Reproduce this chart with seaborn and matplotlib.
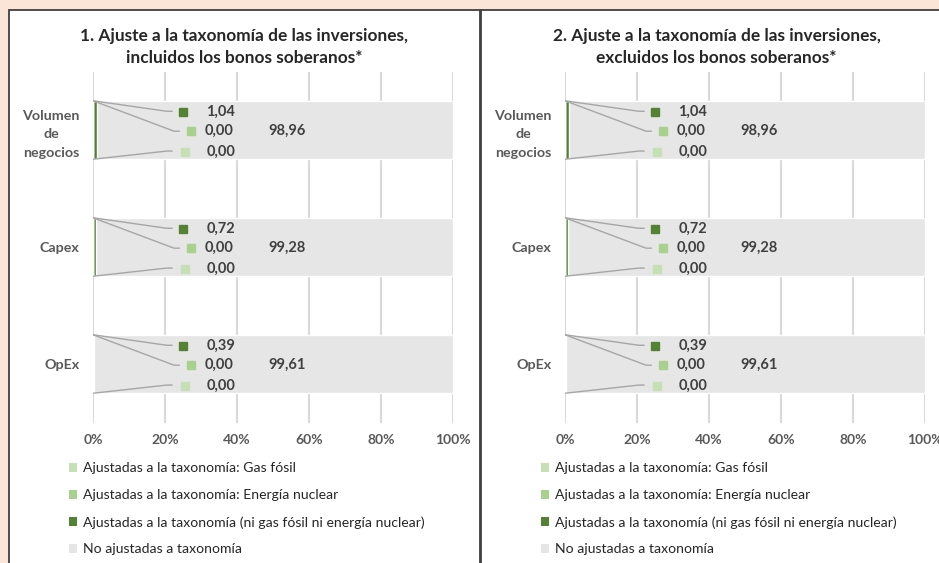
import matplotlib
matplotlib.use("Agg")
import matplotlib.pyplot as plt
import seaborn as sns
import pandas as pd
from matplotlib.patches import Rectangle, Patch

# data
categories = ["Volumen\nde\nnegocios", "Capex", "OpEx"]
gas_fosil = [0.00, 0.00, 0.00]
energia_nuclear = [0.00, 0.00, 0.00]
ajustadas = [1.04, 0.72, 0.39]
no_ajustadas = [98.96, 99.28, 99.61]

titles = ["1. Ajuste a la taxonomía de las inversiones,\nincluidos los bonos soberanos*",
          "2. Ajuste a la taxonomía de las inversiones,\nexcluidos los bonos soberanos*"]
legend_labels = ["Ajustadas a la taxonomía: Gas fósil",
                 "Ajustadas a la taxonomía: Energía nuclear",
                 "Ajustadas a la taxonomía (ni gas fósil ni energía nuclear)",
                 "No ajustadas a taxonomía"]

c_light = "#C5E0B4"
c_mid = "#A9D18E"
c_dark = "#548235"
c_gray = "#E7E6E6"
txt = "#595959"

sns.set_theme(style="white")
plt.rcParams["font.family"] = ["Lato", "DejaVu Sans"]

df = pd.DataFrame({
    "cat": categories,
    "gas": gas_fosil,
    "nuc": energia_nuclear,
    "alig": ajustadas,
    "no": no_ajustadas,
})
df["total"] = df["gas"] + df["nuc"] + df["alig"] + df["no"]
df["green"] = df["gas"] + df["nuc"] + df["alig"]
df["lightmid"] = df["gas"] + df["nuc"]

W, H = 939, 563
fig = plt.figure(figsize=(W / 100, H / 100), dpi=100)
fig.patch.set_facecolor("#FBE5D6")

# white panels with border
for x0 in [9, 481]:
    fig.patches.append(Rectangle((x0 / W, -0.05), 471 / W, (H - 10) / H + 0.05,
                                 transform=fig.transFigure, facecolor="white",
                                 edgecolor="#404040", lw=1.3, zorder=-10))


def fmt(v):
    return f"{v:.2f}".replace(".", ",")


for i, (ax_left, title) in enumerate(zip([93, 565], titles)):
    ax = fig.add_axes([ax_left / W, 1 - 422.5 / H, 360 / W, 351 / H])
    ax.set_facecolor("none")
    sns.barplot(data=df, x="total", y="cat", orient="h", color=c_gray, width=0.5,
                ax=ax, saturation=1, zorder=2)
    sns.barplot(data=df, x="green", y="cat", orient="h", color=c_dark, width=0.5,
                ax=ax, saturation=1, zorder=3)
    sns.barplot(data=df, x="lightmid", y="cat", orient="h", color=c_mid, width=0.5,
                ax=ax, saturation=1, zorder=4)
    sns.barplot(data=df, x="gas", y="cat", orient="h", color=c_light, width=0.5,
                ax=ax, saturation=1, zorder=5)
    ax.set_xlim(0, 100)
    ax.set_ylim(2.5, -0.5)
    ax.set_xticks([0, 20, 40, 60, 80, 100])
    ax.set_xticklabels([f"{t}%" for t in [0, 20, 40, 60, 80, 100]],
                       fontsize=10, fontweight="bold", color=txt)
    ax.set_yticks(range(len(categories)))
    ax.set_yticklabels(categories, fontsize=10.3, fontweight="bold", color=txt,
                       multialignment="center", linespacing=1.65)
    for lab in ax.get_yticklabels():
        lab.set_va("center_baseline")
    ax.tick_params(axis="x", length=0, pad=8.5)
    ax.tick_params(axis="y", length=0, pad=9.5)
    ax.set_xlabel("")
    ax.set_ylabel("")
    ax.grid(axis="x", color="#D9D9D9", lw=1.5, zorder=0)
    ax.set_axisbelow(True)
    for s in ax.spines.values():
        s.set_visible(False)

    # data labels with leader lines
    for j in range(len(categories)):
        top, bot = j - 0.25, j + 0.25
        lc = "#A6A6A6"
        ax.plot([0, 20.5, 22], [top, j - 0.16, j - 0.16], color=lc, lw=1, zorder=6)
        ax.plot([0, 22.5, 24], [top, j + 0.01, j + 0.01], color=lc, lw=1, zorder=6)
        ax.plot([0, 20.5, 22], [bot, j + 0.18, j + 0.18], color=lc, lw=1, zorder=6)
        ax.plot(25, j - 0.155, marker="s", ms=5.5, color=c_dark, zorder=7)
        ax.plot(27.2, j + 0.01, marker="s", ms=5.5, color=c_mid, zorder=7)
        ax.plot(25.6, j + 0.19, marker="s", ms=5.5, color=c_light, zorder=7)
        kw = dict(fontsize=10.5, fontweight="bold", color="#404040", va="center", zorder=8)
        ax.text(31.5, j - 0.155, fmt(ajustadas[j]), **kw)
        ax.text(31.0, j + 0.01, fmt(energia_nuclear[j]), **kw)
        ax.text(31.5, j + 0.19, fmt(gas_fosil[j]), **kw)
        ax.text(54, j + 0.01, fmt(no_ajustadas[j]), ha="center", **kw)

    panel_c = (9 + 471 / 2 + i * 472) / W
    fig.text(panel_c, 1 - 47 / H, title, ha="center", va="center", fontsize=12.4,
             fontweight="bold", color="#262626", linespacing=1.45)

    handles = [Patch(facecolor=c, edgecolor="none") for c in [c_light, c_mid, c_dark, c_gray]]
    fig.legend(handles, legend_labels, loc="upper left",
               bbox_to_anchor=((ax_left - 24) / W, 1 - 462.5 / H), frameon=False,
               fontsize=10.1, handlelength=0.6, handleheight=0.6, handletextpad=0.38,
               labelspacing=1.05, borderpad=0, borderaxespad=0, labelcolor="#262626")

fig.savefig("out.png", dpi=100)
